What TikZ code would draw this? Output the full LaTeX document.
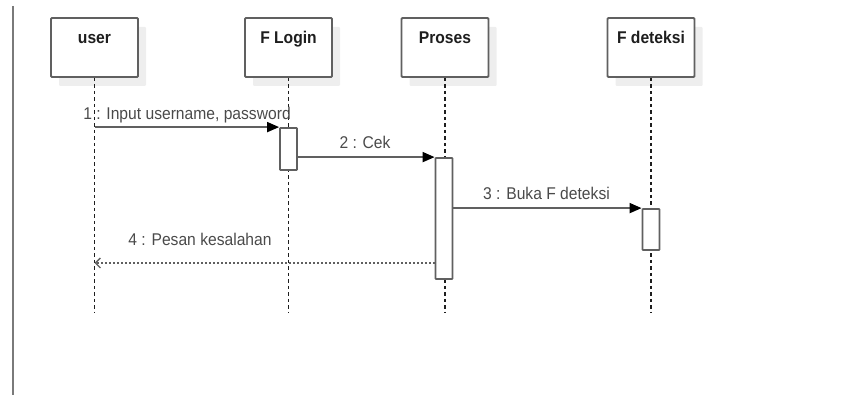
\documentclass[tikz,border=0pt]{standalone}
\usepackage{fontspec}
\setmainfont{Liberation Sans}[FakeStretch=0.92]
\usetikzlibrary{arrows.meta,shadows}
\definecolor{edge}{HTML}{606060}
\definecolor{ink}{HTML}{1E1E1E}
\definecolor{msgink}{HTML}{4A4A4A}
\definecolor{shade}{HTML}{EEEEEE}
\definecolor{frame}{HTML}{7A7A7A}

\begin{document}
\begin{tikzpicture}[x=1pt,y=-1pt,
  participant/.style={draw=edge, line width=1.8pt, fill=white, rounded corners=1pt,
    minimum width=87pt, minimum height=59pt, inner sep=0pt,
    drop shadow={shadow xshift=8pt, shadow yshift=-9pt, fill=shade, opacity=1}},
  ptitle/.style={anchor=base, inner sep=0pt, text=ink,
    font=\fontsize{17}{20}\selectfont\bfseries},
  activation/.style={draw=edge, line width=1.8pt, fill=white, rounded corners=0.6pt,
    minimum width=17pt, inner sep=0pt},
  lifeline/.style={draw=ink, line width=1.1pt, dash pattern=on 3.5pt off 3pt},
  callmsg/.style={draw=edge, line width=1.8pt,
    -{Triangle[length=12pt,width=10pt,color=black,fill=black]}},
  returnmsg/.style={draw=edge, line width=1.8pt, dash pattern=on 2pt off 2pt,
    -{Straight Barb[length=5pt,width=10pt,line width=1.3pt,color=edge]}},
  msglabel/.style={anchor=base, inner sep=0pt, text=msgink,
    font=\fontsize{17}{20}\selectfont}]

  \useasboundingbox (0,0) rectangle (844,395);

  % frame edge on the left
  \draw[draw=frame, line width=2pt] (13,6) -- (13,395);

  % participants
  \node[participant] (user)    at (94.5,47.5) {};
  \node[participant] (login)   at (288.5,47.5) {};
  \node[participant] (proses)  at (445,47.5) {};
  \node[participant] (deteksi) at (651,47.5) {};

  \node[ptitle] at (user.center |- 0,44)    {user};
  \node[ptitle] at (login.center |- 0,44)   {F Login};
  \node[ptitle] at (proses.center |- 0,44)  {Proses};
  \node[ptitle] at (deteksi.center |- 0,44) {F deteksi};

  % lifeline ends
  \coordinate (userEnd)    at (user.south |- 0,313);
  \coordinate (loginEnd)   at (login.south |- 0,313);
  \coordinate (prosesEnd)  at (proses.south |- 0,313);
  \coordinate (deteksiEnd) at (deteksi.south |- 0,313);

  \draw[lifeline] (user.south)    -- (userEnd);
  \draw[lifeline] (login.south)   -- (loginEnd);
  \draw[lifeline] (proses.south)  -- (prosesEnd);
  \draw[lifeline] (deteksi.south) -- (deteksiEnd);

  % activation bars
  \node[activation, minimum height=42pt]  (actLogin)   at (288.5,149) {};
  \node[activation, minimum height=121pt] (actProses)  at (444,218.5) {};
  \node[activation, minimum height=41pt]  (actDeteksi) at (651,229.5) {};

  % messages
  \coordinate (m1) at (user.south |- actLogin.north);
  \coordinate (m4) at (actProses.west |- 0,263);
  \coordinate (m4end) at (user.south |- 0,263);

  \draw[callmsg] (m1) -- (actLogin.north west);
  \draw[callmsg] (actLogin.east |- actProses.north) -- (actProses.north west);
  \draw[callmsg] (actProses.east |- actDeteksi.north) -- (actDeteksi.north west);
  \draw[returnmsg] (m4) -- (m4end);

  \node[msglabel] (l1) at (187,120)   {1 : Input username, password};
  \node[msglabel] (l2) at (365,149)   {2 : Cek};
  \node[msglabel] (l3) at (546.5,200) {3 : Buka F deteksi};
  \node[msglabel] (l4) at (200,246)   {4 : Pesan kesalahan};
\end{tikzpicture}
\end{document}
